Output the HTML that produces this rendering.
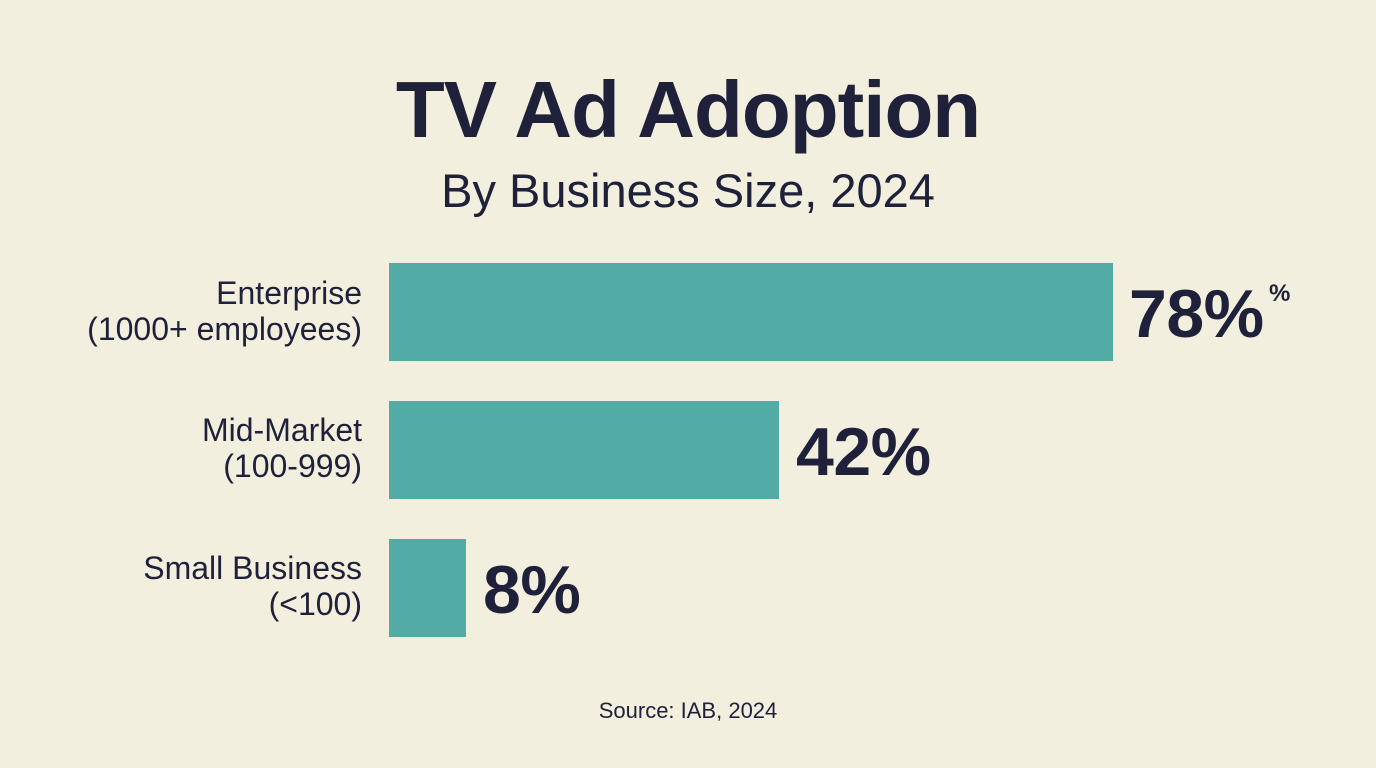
<!DOCTYPE html>
<html><head><meta charset="utf-8"><style>
html,body{margin:0;padding:0;}
body{width:1376px;height:768px;background:#f3efdf;position:relative;overflow:hidden;font-family:"Liberation Sans",sans-serif;color:#1e2139;}
.t{position:absolute;left:0;width:1376px;text-align:center;}
.bar{position:absolute;left:389px;background:#52aca5;}
.lab{position:absolute;right:1014px;text-align:right;font-size:32px;line-height:36px;white-space:nowrap;}
.val{position:absolute;font-weight:bold;font-size:68px;line-height:68px;letter-spacing:-0.5px;}
</style></head><body>
<div class="t" style="top:64px;font-size:80px;font-weight:bold;letter-spacing:-1px;">TV Ad Adoption</div>
<div class="t" style="top:163px;font-size:47px;">By Business Size, 2024</div>

<div class="lab" style="top:275px;">Enterprise<br>(1000+ employees)</div>
<div class="bar" style="top:263px;width:724px;height:98px;"></div>
<div class="val" style="left:1129px;top:280px;">78%</div>
<div style="position:absolute;left:1269px;top:280px;font-size:24px;font-weight:bold;">%</div>

<div class="lab" style="top:412px;">Mid-Market<br>(100-999)</div>
<div class="bar" style="top:401px;width:390px;height:98px;"></div>
<div class="val" style="left:796px;top:418px;">42%</div>

<div class="lab" style="top:550px;">Small Business<br>(&lt;100)</div>
<div class="bar" style="top:539px;width:77px;height:98px;"></div>
<div class="val" style="left:483px;top:556px;">8%</div>

<div class="t" style="top:698px;font-size:22px;">Source: IAB, 2024</div>
</body></html>
